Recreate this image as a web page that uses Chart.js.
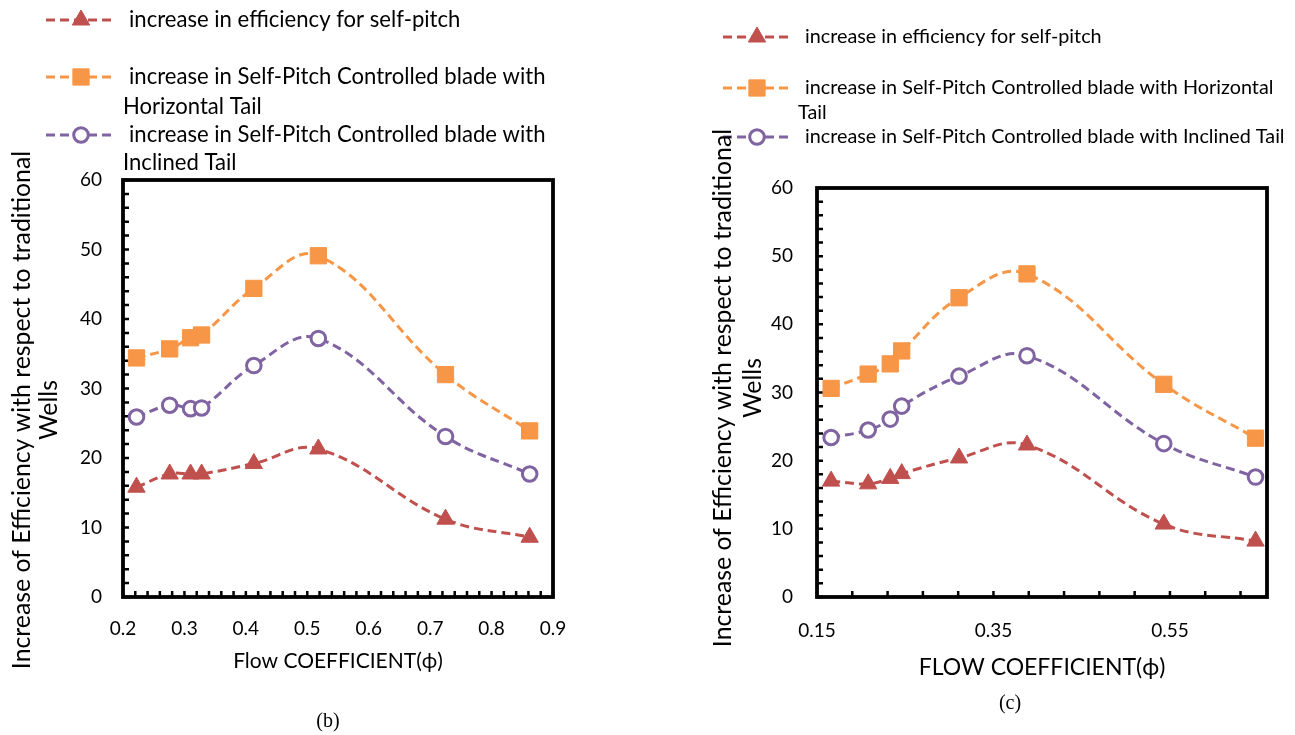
<!DOCTYPE html>
<html>
<head>
<meta charset="utf-8">
<script src="https://cdn.jsdelivr.net/npm/chart.js"></script>
<style>
html,body{margin:0;padding:0;background:#fff;}
#wrap{position:relative;width:1295px;height:735px;overflow:hidden;background:#fff;}
canvas{position:absolute;top:0;}
#chartB{left:0;}
#chartC{left:650px;}
</style>
</head>
<body>
<div id="wrap">
<canvas id="chartB" width="650" height="735"></canvas>
<canvas id="chartC" width="645" height="735"></canvas>
</div>
<script>
// ---------- DATA ----------
// Panel (b)
const phiB        = [0.222, 0.276, 0.310, 0.328, 0.413, 0.518, 0.725, 0.862];
const selfPitchB  = [15.8, 17.7, 17.7, 17.7, 19.2, 21.3, 11.2, 8.6];
const horizTailB  = [34.4, 35.7, 37.3, 37.7, 44.4, 49.1, 32.0, 23.9];
const inclTailB   = [25.9, 27.6, 27.1, 27.2, 33.3, 37.2, 23.1, 17.7];
// Panel (c)
const phiC        = [0.166, 0.208, 0.233, 0.246, 0.311, 0.388, 0.543, 0.647];
const selfPitchC  = [17.0, 16.6, 17.4, 18.1, 20.4, 22.3, 10.7, 8.2];
const horizTailC  = [30.6, 32.7, 34.2, 36.1, 43.9, 47.4, 31.2, 23.3];
const inclTailC   = [23.4, 24.5, 26.1, 28.0, 32.4, 35.4, 22.5, 17.6];

// Series names (legend lines as wrapped in the figure)
const namesB = [
  ['increase in efficiency for self-pitch'],
  ['increase in Self-Pitch Controlled blade with', 'Horizontal Tail'],
  ['increase in Self-Pitch Controlled blade with', 'Inclined Tail']
];
const namesC = [
  ['increase in efficiency for self-pitch'],
  ['increase in Self-Pitch Controlled blade with Horizontal', 'Tail'],
  ['increase in Self-Pitch Controlled blade with Inclined Tail']
];

// Tick labels
const yTickLabels  = ['0', '10', '20', '30', '40', '50', '60'];
const xTickLabelsB = ['0.2', '0.3', '0.4', '0.5', '0.6', '0.7', '0.8', '0.9'];
const xTickLabelsC = ['0.15', '0.35', '0.55'];

// Titles
const yTitle   = ['Increase of Efficiency with respect to traditional', 'Wells'];
const xTitleB  = 'Flow COEFFICIENT(\u03D5)';
const xTitleC  = 'FLOW COEFFICIENT(\u03D5)';
const captionB = '(b)';
const captionC = '(c)';

// ---------- STYLE ----------
const RED = '#C0504D', ORANGE = '#F79646', PURPLE = '#8064A2';
const SANS = 'Lato, "Open Sans", sans-serif';
const SERIF = '"Liberation Serif", "Times New Roman", serif';
Chart.defaults.font.family = SANS;
Chart.defaults.color = '#000';

function labelFrom(list) {
  return function (v) {
    for (const s of list) { if (Math.abs(Number(s) - v) < 1e-6) return s; }
    return '';
  };
}
function minorTicks(step) {
  return function (scale) {
    const out = [];
    const lo = scale.options.min, hi = scale.options.max;
    for (let i = 0; ; i++) {
      const v = Math.round((lo + i * step) * 1e9) / 1e9;
      if (v > hi + 1e-9) break;
      out.push({ value: v });
    }
    scale.ticks = out;
  };
}

// frame + inward tick marks
const framePlugin = {
  id: 'frame',
  beforeDatasetsDraw(chart, args, opts) {
    const { ctx, chartArea: a } = chart;
    const xs = chart.scales.x, ys = chart.scales.y;
    ctx.save();
    ctx.strokeStyle = '#000';
    ctx.lineWidth = opts.tickWidth;
    ctx.setLineDash([]);
    ctx.beginPath();
    xs.ticks.forEach(t => {
      const px = xs.getPixelForValue(t.value);
      ctx.moveTo(px, a.bottom);
      ctx.lineTo(px, a.bottom - opts.tickLen);
    });
    ys.ticks.forEach(t => {
      const py = ys.getPixelForValue(t.value);
      ctx.moveTo(a.left, py);
      ctx.lineTo(a.left + opts.tickLen, py);
    });
    ctx.stroke();
    ctx.lineWidth = opts.lineWidth;
    ctx.lineJoin = 'miter';
    ctx.strokeRect(a.left, a.top, a.right - a.left, a.bottom - a.top);
    ctx.restore();
  }
};

// free text: rotated y-axis title lines and the panel caption
const textPlugin = {
  id: 'freeText',
  afterDraw(chart, args, o) {
    const ctx = chart.ctx;
    ctx.save();
    ctx.fillStyle = '#000';
    ctx.textAlign = 'center';
    ctx.textBaseline = 'middle';
    o.items.forEach(it => {
      ctx.save();
      ctx.translate(it.x, it.y);
      ctx.rotate(it.rot || 0);
      ctx.font = it.font;
      ctx.fillText(it.text, 0, 0);
      ctx.restore();
    });
    ctx.restore();
  }
};

function drawMarker(ctx, ds, x, y) {
  const opt = { pointStyle: ds.pointStyle, radius: ds.pointRadius, borderWidth: ds.pointBorderWidth, rotation: 0 };
  ctx.fillStyle = ds.pointBackgroundColor;
  ctx.strokeStyle = ds.pointBorderColor;
  ctx.lineWidth = ds.pointBorderWidth;
  Chart.helpers.drawPoint(ctx, opt, x, y);
}

// legend drawn at the figure's positions
const seriesLegend = {
  id: 'seriesLegend',
  afterDraw(chart, args, o) {
    const ctx = chart.ctx;
    ctx.save();
    chart.data.datasets.forEach((ds, i) => {
      const rows = o.rows[i];
      const y = rows[0];
      ctx.beginPath();
      ctx.setLineDash(ds.borderDash);
      ctx.lineWidth = ds.borderWidth;
      ctx.strokeStyle = ds.borderColor;
      ctx.moveTo(o.x0, y);
      ctx.lineTo(o.x1, y);
      ctx.stroke();
      ctx.setLineDash([]);
      drawMarker(ctx, ds, o.mx, y);
      ctx.fillStyle = '#000';
      ctx.font = o.fontSize + 'px ' + SANS;
      ctx.textBaseline = 'middle';
      ctx.textAlign = 'left';
      ds.lines.forEach((line, k) => {
        ctx.fillText(line, k === 0 ? o.tx : o.tx2, rows[k]);
      });
    });
    ctx.restore();
  }
};

function makeDatasets(phi, a, b, c, names) {
  const pts = arr => phi.map((x, i) => ({ x: x, y: arr[i] }));
  const base = { borderWidth: 3, borderDash: [9, 5], tension: 0.4, fill: false };
  return [
    Object.assign({}, base, { label: names[0].join(' '), lines: names[0], data: pts(a),
      borderColor: RED, pointStyle: 'triangle', pointRadius: 10,
      pointBackgroundColor: RED, pointBorderColor: RED, pointBorderWidth: 1 }),
    Object.assign({}, base, { label: names[1].join(' '), lines: names[1], data: pts(b),
      borderColor: ORANGE, pointStyle: 'rect', pointRadius: 11.5,
      pointBackgroundColor: ORANGE, pointBorderColor: ORANGE, pointBorderWidth: 1 }),
    Object.assign({}, base, { label: names[2].join(' '), lines: names[2], data: pts(c),
      borderColor: PURPLE, pointStyle: 'circle', pointRadius: 7.3,
      pointBackgroundColor: '#fff', pointBorderColor: PURPLE, pointBorderWidth: 3 })
  ];
}

function makeChart(id, cfg) {
  const yFont = '24.8px ' + SANS;
  return new Chart(document.getElementById(id), {
    type: 'line',
    data: { datasets: makeDatasets(cfg.phi, cfg.a, cfg.b, cfg.c, cfg.names) },
    plugins: [framePlugin, seriesLegend, textPlugin],
    options: {
      responsive: false,
      animation: false,
      events: [],
      layout: { padding: cfg.padding },
      plugins: {
        legend: { display: false },
        tooltip: { enabled: false },
        title: { display: false },
        frame: { lineWidth: 3.8, tickLen: 6, tickWidth: 2.5 },
        seriesLegend: cfg.legend,
        freeText: { items: [
          { text: yTitle[0], x: cfg.yT[0], y: cfg.yT[2], rot: -Math.PI / 2, font: yFont },
          { text: yTitle[1], x: cfg.yT[1], y: cfg.yT[2], rot: -Math.PI / 2, font: yFont },
          { text: cfg.caption, x: cfg.cap[0], y: cfg.cap[1], font: '20px ' + SERIF }
        ] }
      },
      scales: {
        x: {
          type: 'linear', min: cfg.xMin, max: cfg.xMax,
          afterBuildTicks: minorTicks(cfg.xStep),
          afterFit: s => { s.height = cfg.xHeight; },
          grid: { display: false, drawTicks: false },
          border: { display: false },
          ticks: { autoSkip: false, maxRotation: 0, padding: cfg.xTickPad, font: { size: 19 }, color: '#000',
                   callback: labelFrom(cfg.xLabels) },
          title: { display: true, text: cfg.xTitle, color: '#000', font: { size: cfg.xTitleSize, lineHeight: 1.2 },
                   padding: { top: 0, bottom: cfg.xTitlePad } }
        },
        y: {
          type: 'linear', min: 0, max: 60,
          afterBuildTicks: minorTicks(2),
          afterFit: s => { s.width = cfg.yWidth; },
          grid: { display: false, drawTicks: false },
          border: { display: false },
          ticks: { autoSkip: false, padding: cfg.yTickPad, font: { size: 19 }, color: '#000',
                   callback: labelFrom(yTickLabels) },
          title: { display: false }
        }
      }
    }
  });
}

makeChart('chartB', {
  phi: phiB, a: selfPitchB, b: horizTailB, c: inclTailB, names: namesB,
  padding: { top: 180, left: 0, right: 97, bottom: 0 },
  caption: captionB, cap: [328, 722],
  xMin: 0.2, xMax: 0.9, xStep: 0.02, xLabels: xTickLabelsB, xHeight: 138, xTickPad: 20,
  xTitle: xTitleB, xTitleSize: 21, xTitlePad: 61,
  yWidth: 123, yTickPad: 21, yT: [22, 49, 410],
  legend: { x0: 46, x1: 115, mx: 81, tx: 129, tx2: 123, fontSize: 22.1, rows: [[20], [77, 107], [135, 163]] }
});

makeChart('chartC', {
  phi: phiC, a: selfPitchC, b: horizTailC, c: inclTailC, names: namesC,
  padding: { top: 188, left: 0, right: 28, bottom: 0 },
  caption: captionC, cap: [360, 704],
  xMin: 0.15, xMax: 0.66, xStep: 0.04, xLabels: xTickLabelsC, xHeight: 138, xTickPad: 22,
  xTitle: xTitleC, xTitleSize: 23, xTitlePad: 54,
  yWidth: 167, yTickPad: 24, yT: [73, 103, 388],
  legend: { x0: 73, x1: 143, mx: 107, tx: 155, tx2: 148, fontSize: 19.8, rows: [[37], [88, 113], [137]] }
});
</script>
</body>
</html>
